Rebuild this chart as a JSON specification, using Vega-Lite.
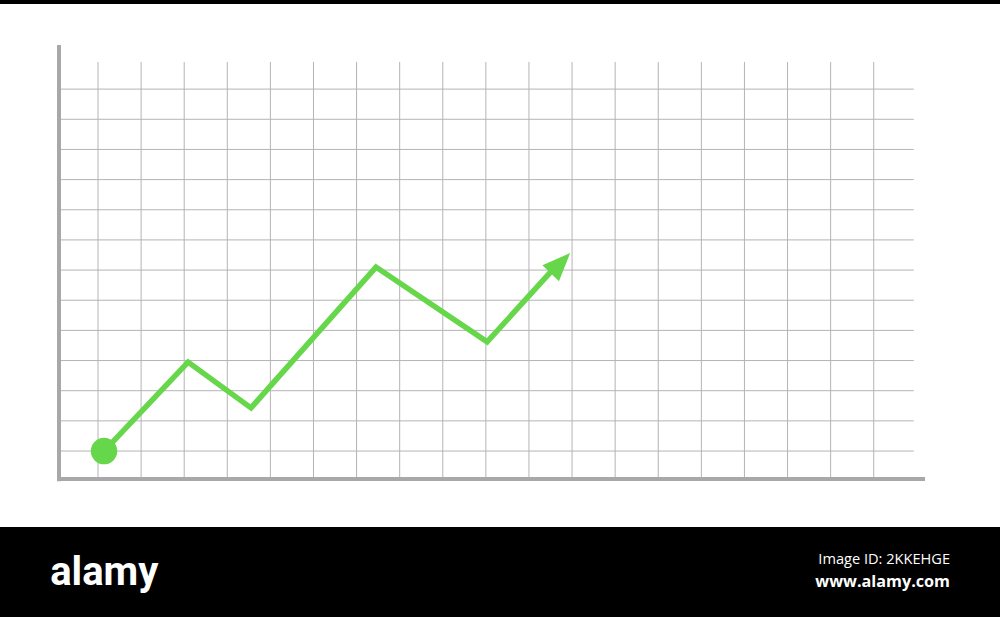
{
  "$schema": "https://vega.github.io/schema/vega-lite/v6.json",
  "width": 1000,
  "height": 617,
  "padding": 0,
  "autosize": "none",
  "background": "white",
  "config": {"view": {"stroke": null}},
  "datasets": {
    "vgrid": [{"gx":1},{"gx":2},{"gx":3},{"gx":4},{"gx":5},{"gx":6},{"gx":7},{"gx":8},{"gx":9},{"gx":10},{"gx":11},{"gx":12},{"gx":13},{"gx":14},{"gx":15},{"gx":16},{"gx":17},{"gx":18},{"gx":19}],
    "hgrid": [{"gy":1},{"gy":2},{"gy":3},{"gy":4},{"gy":5},{"gy":6},{"gy":7},{"gy":8},{"gy":9},{"gy":10},{"gy":11},{"gy":12},{"gy":13}],
    "series": [
      {"step": 0, "x": 1.14, "y": 1.0},
      {"step": 1, "x": 3.09, "y": 3.95},
      {"step": 2, "x": 4.55, "y": 2.43},
      {"step": 3, "x": 7.45, "y": 7.1},
      {"step": 4, "x": 10.03, "y": 4.62},
      {"step": 5, "x": 11.5, "y": 6.93}
    ],
    "arrow": [{"x": 11.73, "y": 7.23}],
    "start": [{"x": 1.14, "y": 1.0}],
    "bands": [{"x": -1.3, "x2": 22, "y": -1.52, "y2": -4.6}, {"x": -1.3, "x2": 22, "y": 16.0, "y2": 15.82}]
  },
  "layer": [
    {
      "data": {"name": "bands"},
      "mark": {"type": "rect", "color": "black", "clip": false},
      "encoding": {
        "x": {"field": "x", "type": "quantitative", "scale": {"domain": [-1.274, 21.93], "nice": false, "zero": false}, "axis": null},
        "x2": {"field": "x2"},
        "y": {"field": "y", "type": "quantitative", "scale": {"domain": [-4.503, 15.955], "nice": false, "zero": false}, "axis": null},
        "y2": {"field": "y2"}
      }
    },
    {
      "data": {"name": "vgrid"},
      "mark": {"type": "rule", "color": "#b4b4b4", "strokeWidth": 1},
      "encoding": {
        "x": {"field": "gx", "type": "quantitative"},
        "y": {"datum": 0.07},
        "y2": {"datum": 13.9}
      }
    },
    {
      "data": {"name": "hgrid"},
      "mark": {"type": "rule", "color": "#b4b4b4", "strokeWidth": 1},
      "encoding": {
        "y": {"field": "gy", "type": "quantitative"},
        "x": {"datum": 0.095},
        "x2": {"datum": 19.93}
      }
    },
    {
      "data": {"values": [{"a": 1}]},
      "mark": {"type": "rule", "color": "#a8a8a8", "strokeWidth": 4},
      "encoding": {
        "x": {"datum": 0.095},
        "y": {"datum": 0.0},
        "y2": {"datum": 14.46}
      }
    },
    {
      "data": {"values": [{"a": 1}]},
      "mark": {"type": "rule", "color": "#a8a8a8", "strokeWidth": 4},
      "encoding": {
        "y": {"datum": 0.07},
        "x": {"datum": 0.05},
        "x2": {"datum": 20.19}
      }
    },
    {
      "data": {"name": "series"},
      "mark": {"type": "line", "color": "#66d64a", "strokeWidth": 5.5, "strokeJoin": "miter"},
      "encoding": {
        "x": {"field": "x", "type": "quantitative"},
        "y": {"field": "y", "type": "quantitative"},
        "order": {"field": "step"}
      }
    },
    {
      "data": {"name": "arrow"},
      "mark": {"type": "point", "shape": "M0,-1L-0.82,1L0.82,1Z", "filled": true, "color": "#66d64a", "opacity": 1, "size": 784, "angle": 44},
      "encoding": {
        "x": {"field": "x", "type": "quantitative"},
        "y": {"field": "y", "type": "quantitative"}
      }
    },
    {
      "data": {"name": "start"},
      "mark": {"type": "circle", "color": "#66d64a", "opacity": 1, "size": 700},
      "encoding": {
        "x": {"field": "x", "type": "quantitative"},
        "y": {"field": "y", "type": "quantitative"}
      }
    },
    {
      "data": {"values": [{"t": "alamy", "x": -0.11, "y": -3.45}]},
      "mark": {"type": "text", "color": "white", "font": "Liberation Sans Narrow, Roboto, sans-serif", "fontWeight": "bold", "fontSize": 40, "align": "left", "baseline": "alphabetic", "clip": false},
      "encoding": {
        "x": {"field": "x", "type": "quantitative"},
        "y": {"field": "y", "type": "quantitative"},
        "text": {"field": "t"}
      }
    },
    {
      "data": {"values": [{"t": "Image ID: 2KKEHGE", "x": 20.77, "y": -2.75}]},
      "mark": {"type": "text", "color": "white", "font": "Open Sans", "fontSize": 14.6, "align": "right", "baseline": "alphabetic", "clip": false},
      "encoding": {
        "x": {"field": "x", "type": "quantitative"},
        "y": {"field": "y", "type": "quantitative"},
        "text": {"field": "t"}
      }
    },
    {
      "data": {"values": [{"t": "www.alamy.com", "x": 20.77, "y": -3.5}]},
      "mark": {"type": "text", "color": "white", "font": "Open Sans", "fontWeight": "bold", "fontSize": 16.2, "align": "right", "baseline": "alphabetic", "clip": false},
      "encoding": {
        "x": {"field": "x", "type": "quantitative"},
        "y": {"field": "y", "type": "quantitative"},
        "text": {"field": "t"}
      }
    }
  ]
}
